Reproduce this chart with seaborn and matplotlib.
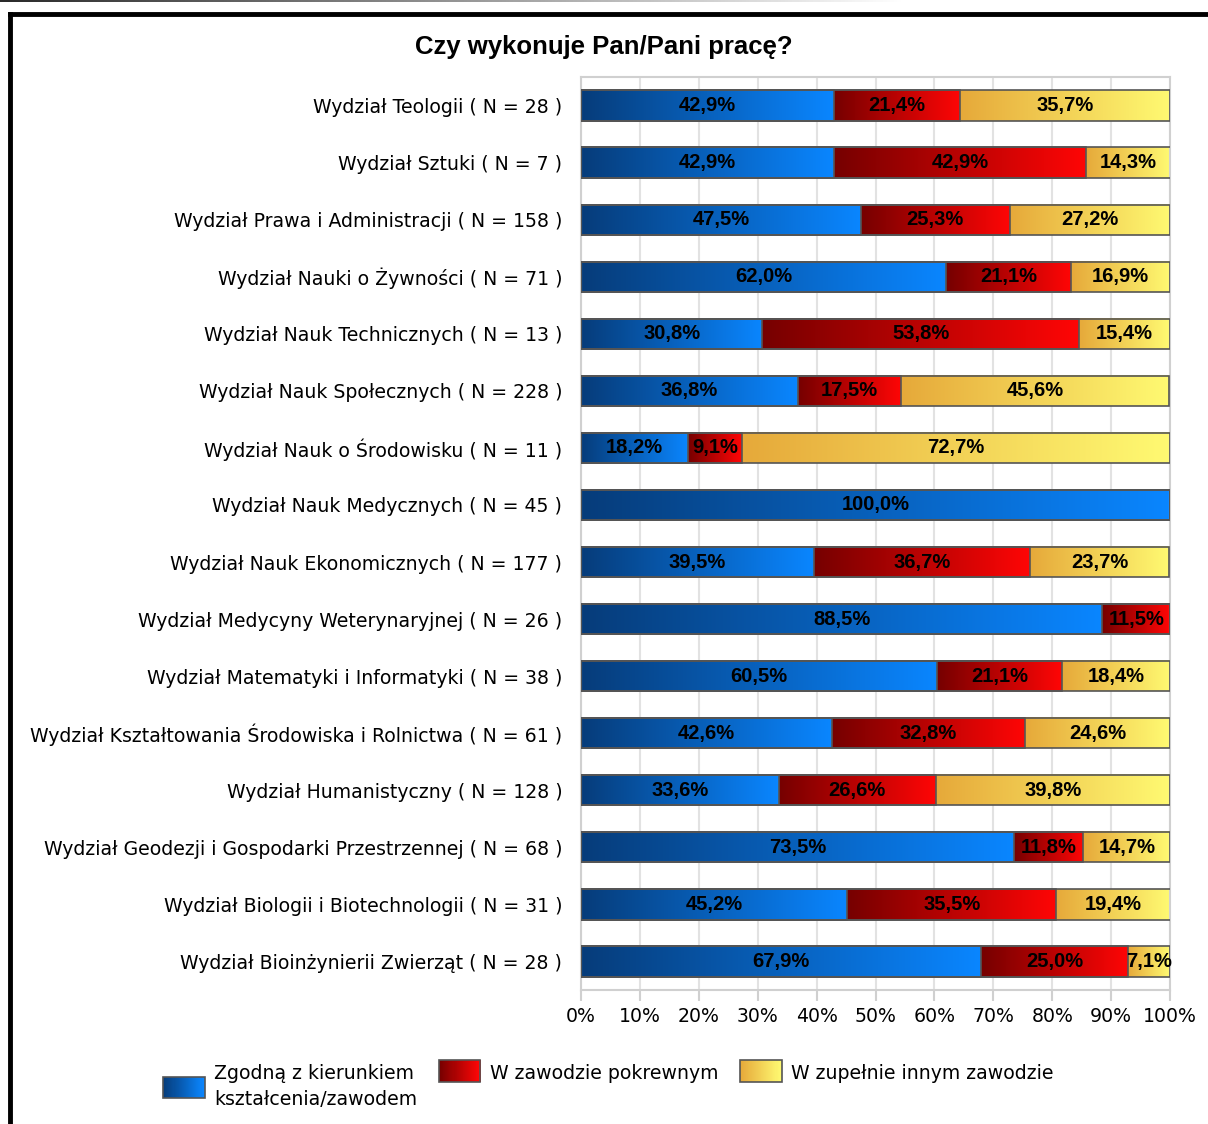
import numpy as np
import pandas as pd
import seaborn as sns
import matplotlib.pyplot as plt
from matplotlib.colors import LinearSegmentedColormap
from matplotlib.patches import Rectangle, Patch
from matplotlib.legend_handler import HandlerBase

faculties = [
    'Wydział Teologii ( N = 28 )',
    'Wydział Sztuki ( N = 7 )',
    'Wydział Prawa i Administracji ( N = 158 )',
    'Wydział Nauki o Żywności ( N = 71 )',
    'Wydział Nauk Technicznych ( N = 13 )',
    'Wydział Nauk Społecznych ( N = 228 )',
    'Wydział Nauk o Środowisku ( N = 11 )',
    'Wydział Nauk Medycznych ( N = 45 )',
    'Wydział Nauk Ekonomicznych ( N = 177 )',
    'Wydział Medycyny Weterynaryjnej ( N = 26 )',
    'Wydział Matematyki i Informatyki ( N = 38 )',
    'Wydział Kształtowania Środowiska i Rolnictwa ( N = 61 )',
    'Wydział Humanistyczny ( N = 128 )',
    'Wydział Geodezji i Gospodarki Przestrzennej ( N = 68 )',
    'Wydział Biologii i Biotechnologii ( N = 31 )',
    'Wydział Bioinżynierii Zwierząt ( N = 28 )',
]
zgodna = [42.9, 42.9, 47.5, 62.0, 30.8, 36.8, 18.2, 100.0, 39.5, 88.5, 60.5, 42.6, 33.6, 73.5, 45.2, 67.9]
pokrewny = [21.4, 42.9, 25.3, 21.1, 53.8, 17.5, 9.1, 0.0, 36.7, 11.5, 21.1, 32.8, 26.6, 11.8, 35.5, 25.0]
inny = [35.7, 14.3, 27.2, 16.9, 15.4, 45.6, 72.7, 0.0, 23.7, 0.0, 18.4, 24.6, 39.8, 14.7, 19.4, 7.1]

series_names = ['Zgodną z kierunkiem\nkształcenia/zawodem', 'W zawodzie pokrewnym', 'W zupełnie innym zawodzie']
ramps = [('#063c7a', '#0a86ff'), ('#760000', '#ff0606'), ('#e6a93a', '#fffa72')]
cmaps = [LinearSegmentedColormap.from_list('g%d' % i, r) for i, r in enumerate(ramps)]

df = pd.DataFrame({'faculty': faculties, 'a': zgodna, 'b': pokrewny, 'c': inny})
df['ab'] = df['a'] + df['b']
df['abc'] = df['ab'] + df['c']

label_font = ['DejaVu Sans']
bold_font = ['Liberation Sans Narrow', 'Liberation Sans', 'DejaVu Sans']
fs = 13.6

fig = plt.figure(figsize=(12.08, 11.24), dpi=100)
ax = fig.add_axes([0.481, 0.1192, 0.4876, 0.8123])

# cumulative layers, widest first
bar_h = 0.53
for col in ['abc', 'ab', 'a']:
    sns.barplot(data=df, x=col, y='faculty', orient='h', width=bar_h, color='white', ax=ax)

containers = ax.containers
starts = [np.zeros(len(df)), df['a'].values, df['ab'].values]
ends = [df['a'].values, df['ab'].values, df['abc'].values]
values = [df['a'].values, df['b'].values, df['c'].values]
layer_of = {0: 2, 1: 1, 2: 0}  # series index -> container index

grad = np.linspace(0, 1, 256).reshape(1, -1)
for s in range(3):
    cont = containers[layer_of[s]]
    for i, p in enumerate(cont.patches):
        if values[s][i] <= 0:
            continue
        y0 = p.get_y()
        h = p.get_height()
        ax.imshow(grad, cmap=cmaps[s], aspect='auto', interpolation='bicubic',
                  extent=(starts[s][i], ends[s][i], y0 + h, y0), zorder=2)
        ax.text((starts[s][i] + ends[s][i]) / 2, y0 + h / 2,
                ('%.1f%%' % values[s][i]).replace('.', ','),
                ha='center', va='center', fontsize=14.5, fontweight='bold',
                family=bold_font, color='black', zorder=4)

for cont in containers:
    for p in cont.patches:
        p.set_facecolor('none')
        p.set_edgecolor('#555555')
        p.set_linewidth(1.2)
        p.set_zorder(3)

ax.set_xlim(0, 100)
ax.set_ylim(len(df) - 0.5, -0.5)
ax.set_xticks(np.arange(0, 101, 10))
ax.set_xticklabels(['%d%%' % v for v in range(0, 101, 10)], family=label_font, fontsize=fs)
ax.set_yticks(range(len(df)))
ax.set_yticklabels(faculties, family=label_font, fontsize=fs)
ax.set_xlabel('')
ax.set_ylabel('')
ax.xaxis.grid(True, color='#e2e2e2', lw=1.5)
ax.set_axisbelow(True)
for sp in ax.spines.values():
    sp.set_color('#d0d0d0')
    sp.set_linewidth(1.5)
ax.tick_params(axis='x', length=8, color='#d0d0d0', width=1.5, pad=4)
ax.tick_params(axis='y', length=0, pad=13.5)

fig.text(0.5, 0.958, 'Czy wykonuje Pan/Pani pracę?', ha='center', va='center',
         fontsize=18.5, fontweight='bold', family=bold_font)


class GradientHandler(HandlerBase):
    def __init__(self, cmap, dy=0.0):
        super().__init__()
        self.cmap = cmap
        self.dy = dy

    def create_artists(self, legend, orig_handle, xdescent, ydescent, width, height, fontsize, trans):
        n = 40
        arts = []
        y = -ydescent + self.dy
        for k in range(n):
            r = Rectangle((-xdescent + k * width / n, y), width / n + 0.3, height,
                          facecolor=self.cmap(k / (n - 1)), edgecolor='none', transform=trans)
            arts.append(r)
        arts.append(Rectangle((-xdescent, y), width, height, facecolor='none',
                              edgecolor='#555555', lw=1.2, transform=trans))
        return arts


# single-line entries get an empty second line and their box lifted to the first line
leg_labels = [series_names[0], series_names[1] + '\n ', series_names[2] + '\n ']
shifts = [0.0, 12.0, 12.0]
handles = [Patch(label=n) for n in leg_labels]
leg = fig.legend(handles=handles, labels=leg_labels, loc='upper left', bbox_to_anchor=(0.135, 0.0535),
                 ncol=3, frameon=False, borderpad=0, borderaxespad=0, handlelength=2.2,
                 handleheight=1.4, columnspacing=1.15, handletextpad=0.5, labelspacing=0,
                 prop={'family': label_font, 'size': fs},
                 handler_map={h: GradientHandler(c, d) for h, c, d in zip(handles, cmaps, shifts)})
for t in leg.get_texts():
    t.set_linespacing(1.45)

# outer frame and the faded rule above it
fig.add_artist(plt.Line2D([0.0085, 0.0085], [0, 0.9875], color='black', lw=3.5, transform=fig.transFigure))
fig.add_artist(plt.Line2D([0.0085, 1.0], [0.9875, 0.9875], color='black', lw=3.5, transform=fig.transFigure))
rule_ax = fig.add_axes([0, 1 - 2.5 / 1124, 0.75, 2.5 / 1124])
rule_ax.imshow(grad, cmap=LinearSegmentedColormap.from_list('rule', ['#2a2a2a', '#ffffff']), aspect='auto')
rule_ax.axis('off')

fig.savefig('out.png', dpi=100)
